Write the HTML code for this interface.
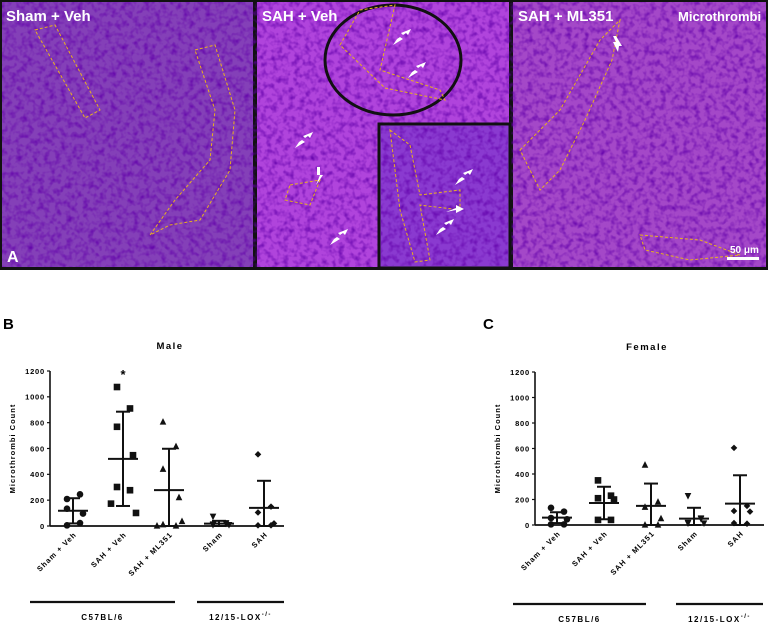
<!DOCTYPE html>
<html><head><meta charset="utf-8"><style>
html,body{margin:0;padding:0;background:#fff;width:768px;height:625px;overflow:hidden}
svg{display:block;font-family:"Liberation Sans",Arial,sans-serif}
</style></head><body>
<svg id="fig" width="768" height="625" viewBox="0 0 768 625">
<defs>
<filter id="tex" x="0" y="0" width="100%" height="100%"><feTurbulence type="fractalNoise" baseFrequency="0.18" numOctaves="2" seed="3"/><feColorMatrix values="0 0 0 0 0.12  0 0 0 0 0  0 0 0 0 0.4  0 0 0 2 -0.85"/></filter>
</defs>
<g>
<rect x="0" y="0" width="768" height="270" fill="#111"/>
<rect x="2" y="2" width="251" height="265" fill="#8440b8"/>
<rect x="257" y="2" width="252" height="265" fill="#b044dc"/>
<rect x="513" y="2" width="253" height="265" fill="#a448c8"/>
<rect x="2" y="2" width="764" height="265" filter="url(#tex)" opacity="0.9"/>
<rect x="379" y="124" width="131" height="144" fill="#8a3ad0" stroke="#111" stroke-width="3"/>
<rect x="381" y="126" width="127" height="140" filter="url(#tex)" opacity="0.9"/>
<ellipse cx="393" cy="60" rx="68" ry="55" fill="none" stroke="#111" stroke-width="3"/>
<g fill="none" stroke="#e8b020" stroke-width="1" stroke-dasharray="3,2">
<path d="M35 30 L55 25 L100 110 L85 118 Z"/>
<path d="M195 50 L215 45 L235 110 L230 170 L200 220 L170 225 L150 235 L175 200 L210 160 L215 110 Z"/>
<path d="M340 45 L360 10 L395 5 L380 70 L440 90 L445 100 L385 88 Z"/>
<path d="M390 130 L410 145 L420 195 L460 190 L460 210 L420 205 L430 260 L415 262 L400 210 Z"/>
<path d="M520 150 L560 110 L600 40 L620 20 L612 60 L585 120 L560 170 L540 190 Z"/>
<path d="M640 235 L700 240 L740 255 L690 260 L645 250 Z"/>
<path d="M290 185 L320 180 L310 205 L285 200 Z"/>
</g>
<g fill="#fff">
<path d="M393 45 l10 -6 l-3 -2 l6 -4 l2 2 l3 -6 l-10 4 l2 2 l-6 4 z"/>
<path d="M408 78 l10 -6 l-3 -2 l6 -4 l2 2 l3 -6 l-10 4 l2 2 l-6 4 z"/>
<path d="M295 148 l10 -6 l-3 -2 l6 -4 l2 2 l3 -6 l-10 4 l2 2 l-6 4 z"/>
<path d="M316 185 l4 -10 l-3 0 l0 -8 l3 0 l0 8 l3 0 z"/>
<path d="M330 245 l10 -6 l-3 -2 l6 -4 l2 2 l3 -6 l-10 4 l2 2 l-6 4 z"/>
<path d="M455 185 l10 -6 l-3 -2 l6 -4 l2 2 l3 -6 l-10 4 l2 2 l-6 4 z"/>
<path d="M446 212 l10 -4 l0 -3 l8 4 l-8 4 l0 -3 z"/>
<path d="M436 235 l10 -6 l-3 -2 l6 -4 l2 2 l3 -6 l-10 4 l2 2 l-6 4 z"/>
<path d="M618 52 l-5 -10 l3 0 l-3 -6 l3 0 l6 10 l-3 0 z"/>
</g>
<g fill="#fff" font-weight="bold" font-size="15">
<text x="6" y="21">Sham + Veh</text>
<text x="262" y="21">SAH + Veh</text>
<text x="518" y="21">SAH + ML351</text>
<text x="678" y="21" font-size="13">Microthrombi</text>
<text x="7" y="262" font-size="16">A</text>
<text x="730" y="253" font-size="10">50 μm</text>
</g>
<rect x="727" y="257" width="32" height="3" fill="#fff"/>
</g>
<text x="3" y="329" font-size="15" font-weight="bold">B</text>
<text x="483" y="329" font-size="15" font-weight="bold">C</text>
<g id="chartB"></g>
<g id="chartC"></g>
</svg>
<script>
const categories = ["Sham + Veh","SAH + Veh","SAH + ML351","Sham","SAH"];
const yTicks = [0,200,400,600,800,1000,1200];
const maleValues = [
 [209,245,134,96,5,23],
 [1076,910,768,548,302,277,173,101],
 [810,620,445,225,15,5,5,40],
 [70,15,10,5,5,20],
 [555,150,105,20,5,5]
];
const maleMeans = [118,520,278,18,140];
const maleSdHigh = [215,885,598,40,350];
const maleSdLow = [20,155,0,0,0];
const femaleValues = [
 [135,105,55,45,5,5],
 [350,230,210,200,40,40],
 [475,185,145,55,5,5],
 [225,50,15,10,10,45],
 [605,150,110,105,15,10]
];
const femaleMeans = [58,173,150,50,168];
const femaleSdHigh = [100,300,325,135,390];
const femaleSdLow = [15,45,0,0,0];
const markers = ["circle","square","triangle","tri-down","diamond"];
const NS="http://www.w3.org/2000/svg";
function mk(parent,tag,attrs){const e=document.createElementNS(NS,tag);for(const k in attrs)e.setAttribute(k,attrs[k]);parent.appendChild(e);return e;}
function drawChart(g,cfg){
 const yScale=v=>cfg.y0-(v/1200)*(cfg.y0-cfg.y1200);
 const xPos=i=>cfg.xs[i];
 mk(g,"line",{x1:cfg.ax,x2:cfg.ax,y1:cfg.y1200,y2:cfg.y0,stroke:"#111","stroke-width":1.6});
 mk(g,"line",{x1:cfg.ax,x2:cfg.axEnd,y1:cfg.y0,y2:cfg.y0,stroke:"#111","stroke-width":1.8});
 yTicks.forEach(t=>{
  const y=yScale(t);
  mk(g,"line",{x1:cfg.ax-3,x2:cfg.ax,y1:y,y2:y,stroke:"#111","stroke-width":1.2});
  const tx=mk(g,"text",{x:cfg.ax-5,y:y+2.8,"font-size":7.5,"font-weight":"bold","text-anchor":"end","letter-spacing":"0.8"});
  tx.textContent=t;
  
  
 });
 const yt=mk(g,"text",{transform:`translate(${cfg.ax-35},${(cfg.y0+cfg.y1200)/2}) rotate(-90)`,"font-size":7.5,"font-weight":"bold","text-anchor":"middle","letter-spacing":"1"});
 yt.textContent="Microthrombi Count";
 
 
 const tt=mk(g,"text",{x:cfg.titleX,y:cfg.y1200-22,"font-size":9.5,"font-weight":"bold","text-anchor":"middle","letter-spacing":"1.5"});
 tt.textContent=cfg.title;
 
 
 const jit=[-6,7,-6,10,-6,7,-12,13];
 cfg.values.forEach((arr,i)=>{
  const x=xPos(i);
  const grp=mk(g,"g",{});
  
  
  arr.forEach((v,j)=>{
   const px=x+jit[j%jit.length], py=yScale(v); let m;
   const s=3.3;
   if(markers[i]=="circle") m=mk(grp,"circle",{cx:px,cy:py,r:s});
   else if(markers[i]=="square") m=mk(grp,"rect",{x:px-s,y:py-s,width:2*s,height:2*s});
   else if(markers[i]=="triangle") m=mk(grp,"polygon",{points:`${px},${py-s} ${px-s},${py+s} ${px+s},${py+s}`});
   else if(markers[i]=="tri-down") m=mk(grp,"polygon",{points:`${px},${py+s} ${px-s},${py-s} ${px+s},${py-s}`});
   else m=mk(grp,"polygon",{points:`${px},${py-s} ${px+s},${py} ${px},${py+s} ${px-s},${py}`});
   m.setAttribute("fill","#111");
   
   
  });
  const hi=yScale(cfg.hi[i]), lo=yScale(cfg.lo[i]), mn=yScale(cfg.means[i]);
  const ln=mk(grp,"line",{x1:x,x2:x,y1:hi,y2:lo,stroke:"#111","stroke-width":2});
  
  
  mk(grp,"line",{x1:x-7,x2:x+7,y1:hi,y2:hi,stroke:"#111","stroke-width":2});
  mk(grp,"line",{x1:x-7,x2:x+7,y1:lo,y2:lo,stroke:"#111","stroke-width":2});
  const ml=mk(grp,"line",{x1:x-15,x2:x+15,y1:mn,y2:mn,stroke:"#111","stroke-width":2});
  
  
  const lb=mk(g,"text",{transform:`translate(${x+4},${cfg.y0+9}) rotate(-45)`,"font-size":7.5,"font-weight":"bold","text-anchor":"end","letter-spacing":"1"});
  lb.textContent=categories[i];
  
  
 });
 if(cfg.star){const st=mk(g,"text",{x:xPos(1),y:yScale(1200)+8,"font-size":13,"font-weight":"bold","text-anchor":"middle"});st.textContent="*";
  
  }
 cfg.groups.forEach(gr=>{
  const l=mk(g,"line",{x1:gr[0],x2:gr[1],y1:cfg.gy,y2:cfg.gy,stroke:"#111","stroke-width":2.2});
  
  
  const t=mk(g,"text",{x:(gr[0]+gr[1])/2,y:cfg.gy+18,"font-size":8,"font-weight":"bold","text-anchor":"middle","letter-spacing":"1.5"});
  t.innerHTML=gr[2];
  
  
 });
}
drawChart(document.getElementById("chartB"),{title:"Male",titleX:170,ax:50,axEnd:284,y0:526,y1200:371,xs:[73,123,169,219,264],
 values:maleValues,means:maleMeans,hi:maleSdHigh,lo:maleSdLow,star:true,gy:602,
 groups:[[30,175,"C57BL/6"],[197,284,'12/15-LOX<tspan dy="-4" font-size="6">-/-</tspan>']]});
drawChart(document.getElementById("chartC"),{title:"Female",titleX:647,ax:535,axEnd:764,y0:525,y1200:372,xs:[557,604,651,694,740],
 values:femaleValues,means:femaleMeans,hi:femaleSdHigh,lo:femaleSdLow,star:false,gy:604,
 groups:[[513,646,"C57BL/6"],[676,763,'12/15-LOX<tspan dy="-4" font-size="6">-/-</tspan>']]});
</script>
</body></html>
